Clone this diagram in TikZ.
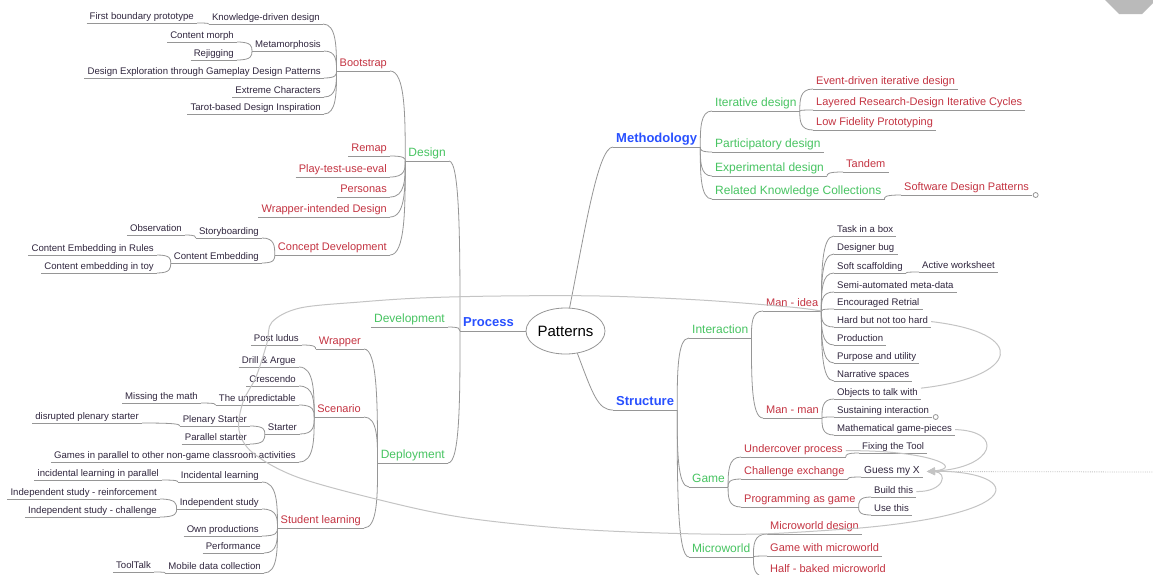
\documentclass[tikz,border=0pt]{standalone}
\usepackage{fontspec}
\setmainfont{Liberation Sans}
\usetikzlibrary{calc,shapes.geometric,arrows.meta}
\definecolor{smc}{RGB}{48,38,62}
\definecolor{redc}{RGB}{196,52,66}
\definecolor{grc}{RGB}{72,196,98}
\definecolor{bluec}{RGB}{40,80,255}
\definecolor{linec}{RGB}{150,150,150}
\definecolor{relc}{RGB}{196,196,196}
\tikzset{
  conn/.style={draw=linec, line width=0.8pt},
  rel/.style={draw=relc, line width=1pt},
  base/.style={inner xsep=3pt, inner ysep=0pt,
    append after command={(\tikzlastnode.south west) edge[conn] (\tikzlastnode.south east)}},
  lnode/.style={base, anchor=south east},
  rnode/.style={base, anchor=south west},
  sm/.style={font=\fontsize{9.6}{10}\selectfont, text=smc, text depth=3.5pt},
  rd/.style={font=\fontsize{11}{12}\selectfont, text=redc, text depth=4.3pt},
  gr/.style={font=\fontsize{12}{13}\selectfont, text=grc, text depth=4.3pt},
  bl/.style={font=\fontsize{13}{14}\selectfont\bfseries, text=bluec, text depth=4.5pt},
}
\newcommand\lk[2]{\draw[conn] (#1.south west) .. controls ($(#1.south west)!0.5!(#1.south west|-#2.south east)$) and (#1.south west|-#2.south east) .. (#2.south east);}
\newcommand\rk[2]{\draw[conn] (#1.south east) .. controls ($(#1.south east)!0.5!(#1.south east|-#2.south west)$) and (#1.south east|-#2.south west) .. (#2.south west);}
\begin{document}
\begin{tikzpicture}[x=1pt,y=-1pt]
\useasboundingbox (0,0) rectangle (1153,574);
\clip (0,0) rectangle (1153,574);
\fill[white] (0,0) rectangle (1153,574);
% top right decoration
\fill[black!27] (1105,0) -- (1153,0) -- (1153,3) -- (1142,14) -- (1119,14) -- cycle;

% centre
\node[draw=linec, line width=0.8pt, ellipse, minimum width=65pt, minimum height=46pt, inner sep=0pt,
      font=\fontsize{15}{16}\selectfont] (pat) at (565.5,331) {Patterns};
\node[lnode,bl] (proc) at (517,331) {Process};
\node[rnode,bl] (meth) at (613,147) {Methodology};
\node[rnode,bl] (str) at (613,410) {Structure};
\draw[conn] (pat.west) -- (proc.south east);
\draw[conn] (pat.80) .. controls (585,230) and (598,147) .. (meth.south west);
\draw[conn] (pat.-62) .. controls (593,395) and (598,410) .. (str.south west);

% ---------- Process ----------
\node[lnode,gr] (des) at (449,161) {Design};
\node[lnode,gr] (dev) at (448,327) {Development};
\node[lnode,gr] (dep) at (448,463) {Deployment};

\node[lnode,rd] (boot) at (390,71) {Bootstrap};
\node[lnode,rd] (remap) at (390,156) {Remap};
\node[lnode,rd] (play) at (390,177) {Play-test-use-eval};
\node[lnode,rd] (pers) at (390,197) {Personas};
\node[lnode,rd] (wid) at (390,217) {Wrapper-intended Design};
\node[lnode,rd] (cd) at (390,255) {Concept Development};

\node[lnode,sm] (kdd) at (323,24) {Knowledge-driven design};
\node[lnode,sm] (fbp) at (197,23) {First boundary prototype};
\node[lnode,sm] (meta) at (324,51) {Metamorphosis};
\node[lnode,sm] (cm) at (237,42) {Content morph};
\node[lnode,sm] (rej) at (237,60) {Rejigging};
\node[lnode,sm] (dex) at (324,78) {Design Exploration through Gameplay Design Patterns};
\node[lnode,sm] (exc) at (324,97) {Extreme Characters};
\node[lnode,sm] (tar) at (324,114) {Tarot-based Design Inspiration};

\node[lnode,sm] (sb) at (262,238) {Storyboarding};
\node[lnode,sm] (obs) at (185,235) {Observation};
\node[lnode,sm] (ce) at (262,263) {Content Embedding};
\node[lnode,sm] (cer) at (157,255) {Content Embedding in Rules};
\node[lnode,sm] (cet) at (157,273) {Content embedding in toy};

\node[lnode,rd] (wrap) at (364,349) {Wrapper};
\node[lnode,rd] (scen) at (364,417) {Scenario};
\node[lnode,rd] (stl) at (364,528) {Student learning};

\node[lnode,sm] (pl) at (302,345) {Post ludus};
\node[lnode,sm] (dra) at (299,367) {Drill \& Argue};
\node[lnode,sm] (cre) at (299,386) {Crescendo};
\node[lnode,sm] (unp) at (299,405) {The unpredictable};
\node[lnode,sm] (mtm) at (201,403) {Missing the math};
\node[lnode,sm] (sta) at (300,434) {Starter};
\node[lnode,sm] (pls) at (250,426) {Plenary Starter};
\node[lnode,sm] (dps) at (142,423) {disrupted plenary starter};
\node[lnode,sm] (pas) at (250,444) {Parallel starter};
\node[lnode,sm] (gip) at (299,462) {Games in parallel to other non-game classroom activities};

\node[lnode,sm] (inl) at (262,482) {Incidental learning};
\node[lnode,sm] (ilp) at (162,480) {incidental learning in parallel};
\node[lnode,sm] (ins) at (262,509) {Independent study};
\node[lnode,sm] (isr) at (160,499) {Independent study - reinforcement};
\node[lnode,sm] (isc) at (160,517) {Independent study - challenge};
\node[lnode,sm] (own) at (262,536) {Own productions};
\node[lnode,sm] (perf) at (264,553) {Performance};
\node[lnode,sm] (mdc) at (264,573) {Mobile data collection};
\node[lnode,sm] (tt) at (154,572) {ToolTalk};

\foreach \p/\c in {proc/des,proc/dev,proc/dep,
  des/boot,des/remap,des/play,des/pers,des/wid,des/cd,
  boot/kdd,boot/meta,boot/dex,boot/exc,boot/tar,kdd/fbp,meta/cm,meta/rej,
  cd/sb,cd/ce,sb/obs,ce/cer,ce/cet,
  dep/wrap,dep/scen,dep/stl,wrap/pl,
  scen/dra,scen/cre,scen/unp,scen/sta,scen/gip,unp/mtm,sta/pls,sta/pas,pls/dps,
  stl/inl,stl/ins,stl/own,stl/perf,stl/mdc,inl/ilp,ins/isr,ins/isc,mdc/tt}
  {\lk{\p}{\c}}

% ---------- Methodology ----------
\node[rnode,gr] (itd) at (712,111) {Iterative design};
\node[rnode,gr] (pad) at (712,152) {Participatory design};
\node[rnode,gr] (exd) at (712,176) {Experimental design};
\node[rnode,gr] (rkc) at (712,199) {Related Knowledge Collections};
\node[rnode,rd] (edi) at (813,89) {Event-driven iterative design};
\node[rnode,rd] (lrd) at (813,110) {Layered Research-Design Iterative Cycles};
\node[rnode,rd] (lfp) at (813,130) {Low Fidelity Prototyping};
\node[rnode,rd] (tan) at (843,172) {Tandem};
\node[rnode,rd] (sdp) at (901,195) {Software Design Patterns};
\draw[conn, fill=white] ([xshift=3.5pt]sdp.south east) circle (2.5pt);

% ---------- Structure ----------
\node[rnode,gr] (int) at (689,338) {Interaction};
\node[rnode,gr] (gam) at (689,487) {Game};
\node[rnode,gr] (mw) at (689,557) {Microworld};
\node[rnode,rd] (mi) at (763,311) {Man - idea};
\node[rnode,rd] (mm) at (763,418) {Man - man};
\node[rnode,rd] (und) at (741,457) {Undercover process};
\node[rnode,rd] (che) at (741,479) {Challenge exchange};
\node[rnode,rd] (prg) at (741,507) {Programming as game};
\node[rnode,rd] (mwd) at (767,534) {Microworld design};
\node[rnode,rd] (gwm) at (767,556) {Game with microworld};
\node[rnode,rd] (hbm) at (767,577) {Half - baked microworld};

\node[rnode,sm] (tib) at (834,236) {Task in a box};
\node[rnode,sm] (dbg) at (834,254) {Designer bug};
\node[rnode,sm] (ssc) at (834,273) {Soft scaffolding};
\node[rnode,sm] (acw) at (919,272) {Active worksheet};
\node[rnode,sm] (sam) at (834,292) {Semi-automated meta-data};
\node[rnode,sm] (enr) at (834,309) {Encouraged Retrial};
\node[rnode,sm] (hbn) at (834,327) {Hard but not too hard};
\node[rnode,sm] (prd) at (834,345) {Production};
\node[rnode,sm] (pau) at (834,363) {Purpose and utility};
\node[rnode,sm] (nsp) at (834,381) {Narrative spaces};
\node[rnode,sm] (otw) at (834,399) {Objects to talk with};
\node[rnode,sm] (sui) at (834,417) {Sustaining interaction};
\node[rnode,sm] (mgp) at (834,435) {Mathematical game-pieces};
\node[rnode,sm] (ftt) at (859,453) {Fixing the Tool};
\node[rnode,sm,font=\fontsize{10.2}{11}\selectfont] (gmx) at (861,477) {Guess my X};
\node[rnode,sm] (bth) at (871,497) {Build this};
\node[rnode,sm] (uth) at (871,515) {Use this};
\draw[conn, fill=white] ([xshift=3.5pt]sui.south east) circle (2.5pt);

\foreach \p/\c in {meth/itd,meth/pad,meth/exd,meth/rkc,itd/edi,itd/lrd,itd/lfp,exd/tan,rkc/sdp,
  str/int,str/gam,str/mw,int/mi,int/mm,
  mi/tib,mi/dbg,mi/ssc,mi/sam,mi/enr,mi/hbn,mi/prd,mi/pau,mi/nsp,ssc/acw,
  mm/otw,mm/sui,mm/mgp,
  gam/und,gam/che,gam/prg,und/ftt,che/gmx,prg/bth,prg/uth,
  mw/mwd,mw/gwm,mw/hbm}
  {\rk{\p}{\c}}

% ---------- relationships ----------
\coordinate (gtip) at ([xshift=4pt]gmx.east);
\coordinate (redge) at (1153,472);
\draw[relc, line width=0.8pt, dash pattern=on 1pt off 1.2pt] (gtip) -- (redge);
\draw[rel, -{Triangle[length=8pt,width=7pt]}] plot[smooth, tension=0.55] coordinates {(mi.south east) (790,307) (700,300) (600,296) (500,296) (420,298) (360,302) (300,308) (272,322) (267,343) (256,377) (243,402) (239,430) (253,453) (297,477) (380,500) (460,517) (560,528) (660,533) (760,534) (860,528)} .. controls (1040,512) and (1015,470) .. (gtip);
\draw[rel] (hbn.east) .. controls (1030,333) and (1020,377) .. (otw.north east);
\draw[rel, -{Triangle[length=8pt,width=7pt]}] (mgp.east) .. controls (1005,431) and (995,468) .. (gtip);
\draw[rel, -{Triangle[length=8pt,width=7pt]}] (und.east) .. controls (930,450) and (965,468) .. (gtip);
\draw[rel, -{Triangle[length=8pt,width=7pt]}] (bth.east) .. controls (945,492) and (948,472) .. (gtip);
\end{tikzpicture}
\end{document}
